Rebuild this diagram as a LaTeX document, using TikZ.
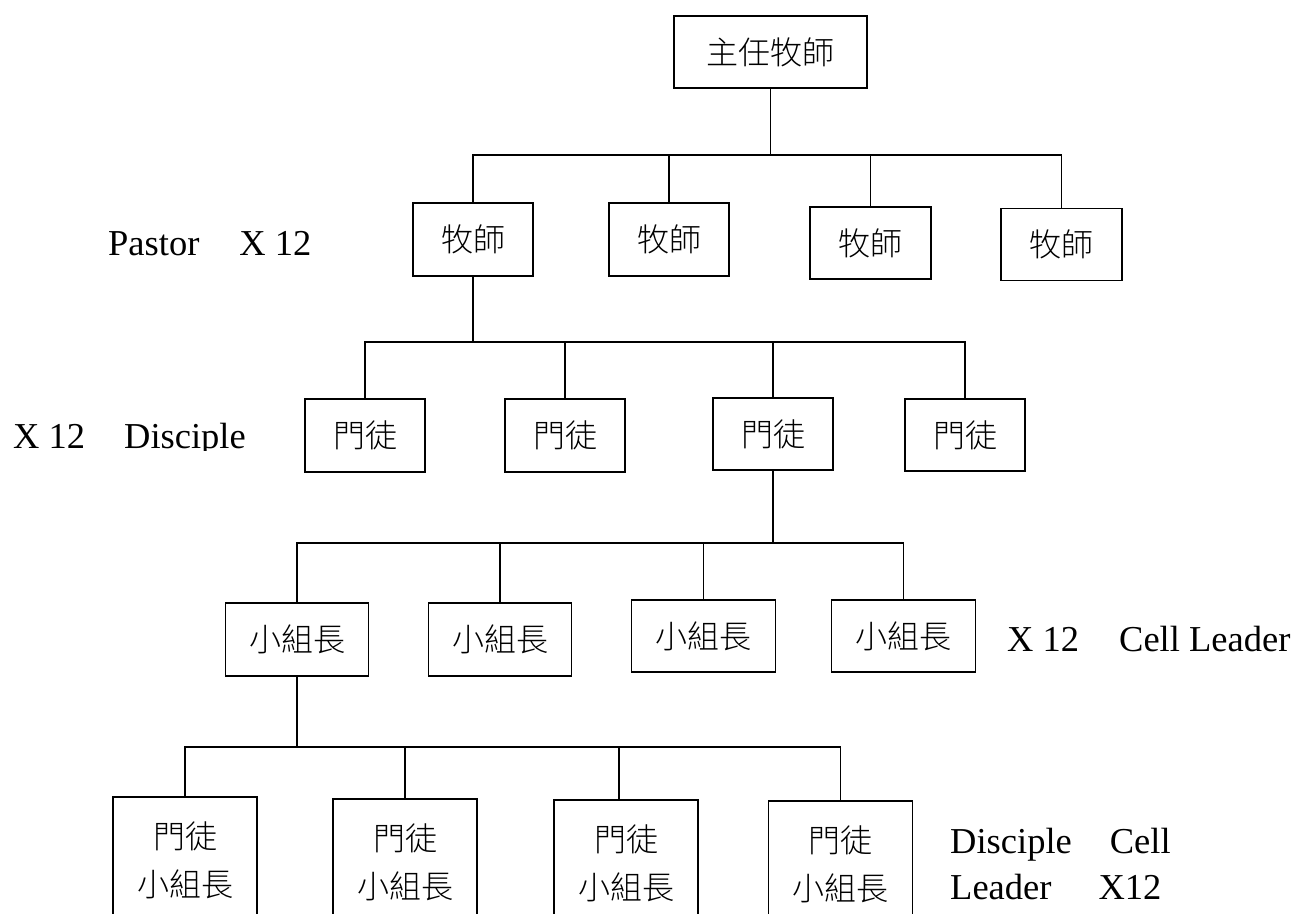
\documentclass[tikz,border=0pt]{standalone}
\usepackage{fontspec}
\setmainfont{Liberation Serif}
\newfontfamily\cjk{Noto Sans CJK TC Light}
\begin{document}
\begin{tikzpicture}[x=1pt,y=-1pt,
  box/.style={draw, line width=1.8pt, inner sep=0pt, align=center,
    font=\cjk\fontsize{32}{48}\selectfont},
  conn/.style={line width=1.8pt},
  lbl/.style={anchor=base west, inner sep=0pt, font=\fontsize{36.5}{46}\selectfont}]
\useasboundingbox (0,0) rectangle (1297,913);
\clip (0,0) rectangle (1297,913);
\fill[white] (0,0) rectangle (1297,913);

% level 0
\node[box, minimum width=193pt, minimum height=72pt] (chief) at (770.5,52) {主任牧師};

% level 1
\node[box, minimum width=120pt, minimum height=73pt] (P1) at (473,239.5) {牧師};
\node[box, minimum width=120pt, minimum height=73pt] (P2) at (669,239.5) {牧師};
\node[box, minimum width=121pt, minimum height=72pt] (P3) at (870.5,243) {牧師};
\node[box, minimum width=121pt, minimum height=72pt] (P4) at (1061.5,244.5) {牧師};

% level 2
\node[box, minimum width=120pt, minimum height=73pt] (D1) at (365,435.5) {門徒};
\node[box, minimum width=120pt, minimum height=73pt] (D2) at (565,435.5) {門徒};
\node[box, minimum width=120pt, minimum height=72pt] (D3) at (773,434) {門徒};
\node[box, minimum width=120pt, minimum height=72pt] (D4) at (965,435) {門徒};

% level 3
\node[box, minimum width=143pt, minimum height=73pt] (C1) at (297,639.5) {小組長};
\node[box, minimum width=143pt, minimum height=73pt] (C2) at (500,639.5) {小組長};
\node[box, minimum width=144pt, minimum height=72pt] (C3) at (703.5,636) {小組長};
\node[box, minimum width=144pt, minimum height=72pt] (C4) at (903.5,636) {小組長};

% level 4 (cut at the bottom edge)
\node[box, minimum width=144pt, minimum height=126pt] (E1) at (185,860) {門徒\\小組長};
\node[box, minimum width=144pt, minimum height=126pt] (E2) at (405,862) {門徒\\小組長};
\node[box, minimum width=144pt, minimum height=126pt] (E3) at (626,863) {門徒\\小組長};
\node[box, minimum width=144pt, minimum height=126pt] (E4) at (840.5,864) {門徒\\小組長};

% bus levels
\coordinate (b1) at (0,155);
\coordinate (b2) at (0,342);
\coordinate (b3) at (0,543);
\coordinate (b4) at (0,747);

% connectors level 0 -> 1
\draw[conn] (chief.south) -- (chief.south |- b1);
\draw[conn] (P1.north) -- (P1.north |- b1) -- (P4.north |- b1) -- (P4.north);
\draw[conn] (P2.north) -- (P2.north |- b1);
\draw[conn] (P3.north) -- (P3.north |- b1);

% level 1 -> 2
\draw[conn] (P1.south) -- (P1.south |- b2);
\draw[conn] (D1.north) -- (D1.north |- b2) -- (D4.north |- b2) -- (D4.north);
\draw[conn] (D2.north) -- (D2.north |- b2);
\draw[conn] (D3.north) -- (D3.north |- b2);

% level 2 -> 3
\draw[conn] (D3.south) -- (D3.south |- b3);
\draw[conn] (C1.north) -- (C1.north |- b3) -- (C4.north |- b3) -- (C4.north);
\draw[conn] (C2.north) -- (C2.north |- b3);
\draw[conn] (C3.north) -- (C3.north |- b3);

% level 3 -> 4
\coordinate (e3top) at ([xshift=-7pt]E3.north);
\draw[conn] (C1.south) -- (C1.south |- b4);
\draw[conn] (E1.north) -- (E1.north |- b4) -- (E4.north |- b4) -- (E4.north);
\draw[conn] (E2.north) -- (E2.north |- b4);
\draw[conn] (e3top) -- (e3top |- b4);

% labels
\node[lbl] (lpastor) at (108,255) {Pastor\hspace{40pt}X 12};
\begin{scope}
  \clip (0,380) rectangle (300,450);
  \node[lbl] (ldisc) at (13,448) {X 12\hspace{39pt}Disciple};
\end{scope}
\node[lbl] (lcell) at (1007,651) {X 12\hspace{40pt}Cell Leader};
\node[lbl] (ldcl1) at (950,853) {Disciple\hspace{38pt}Cell};
\node[lbl] (ldcl2) at (950,899) {Leader\hspace{47pt}X12};
\end{tikzpicture}
\end{document}
